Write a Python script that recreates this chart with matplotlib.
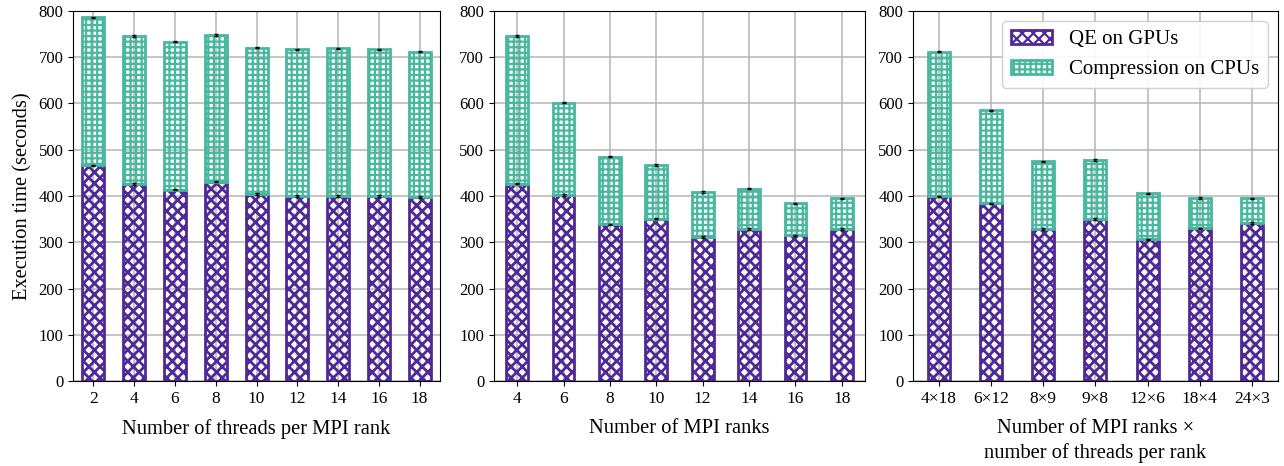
import numpy as np
import matplotlib
matplotlib.use("Agg")
import matplotlib.pyplot as plt

plt.rcParams["font.family"] = ["Liberation Serif", "DejaVu Serif"]

PURPLE = "#4f2a96"
GREEN = "#48b89e"

# panel 1: threads per MPI rank
threads = ["2", "4", "6", "8", "10", "12", "14", "16", "18"]
qe_threads = [466, 426, 414, 431, 404, 400, 400, 400, 398]
tot_threads = [786, 746, 734, 748, 721, 717, 719, 717, 712]

# panel 2: MPI ranks
ranks = ["4", "6", "8", "10", "12", "14", "16", "18"]
qe_ranks = [427, 402, 339, 351, 311, 329, 315, 329]
tot_ranks = [746, 602, 485, 467, 409, 416, 384, 395]

# panel 3: ranks x threads
combos = ["4×18", "6×12", "8×9", "9×8", "12×6", "18×4", "24×3"]
qe_combos = [399, 384, 329, 350, 306, 330, 342]
tot_combos = [712, 585, 475, 478, 406, 396, 395]

err = 1.5

panels = [
    (threads, qe_threads, tot_threads, "Number of threads per MPI rank", 0.54),
    (ranks, qe_ranks, tot_ranks, "Number of MPI ranks", 0.47),
    (combos, qe_combos, tot_combos, "Number of MPI ranks ×\nnumber of threads per rank", 0.42),
]
rects = [(0.0569, 0.1824, 0.2858, 0.794),
         (0.3847, 0.1824, 0.2890, 0.794),
         (0.7110, 0.1824, 0.2843, 0.794)]

fig = plt.figure(figsize=(12.84, 4.66), dpi=100)
for i, ((cats, qe, tot, xlabel, w), r) in enumerate(zip(panels, rects)):
    ax = fig.add_axes(r)
    x = np.arange(len(cats))
    qe = np.array(qe, dtype=float)
    comp = np.array(tot, dtype=float) - qe
    plt.rcParams["hatch.linewidth"] = 2.0
    ax.bar(x, qe, w, facecolor="none", edgecolor=PURPLE, hatch="xxx", lw=2.0,
           label="QE on GPUs", zorder=2)
    plt.rcParams["hatch.linewidth"] = 1.6
    ax.bar(x, comp, w, bottom=qe, facecolor="none", edgecolor=GREEN, hatch="+++",
           lw=2.0, label="Compression on CPUs", zorder=2)
    ax.errorbar(x, qe, yerr=err, fmt="none", ecolor="black", elinewidth=1,
                capsize=1.2, zorder=3)
    ax.errorbar(x, qe + comp, yerr=err, fmt="none", ecolor="black", elinewidth=1,
                capsize=1.2, zorder=3)
    ax.set_xticks(x)
    ax.set_xticklabels(cats, fontsize=12.5)
    ax.set_xlim(-0.5, len(cats) - 0.5)
    ax.set_ylim(0, 800)
    ax.set_yticks(range(0, 801, 100))
    ax.tick_params(axis="y", labelsize=12)
    ax.set_xlabel(xlabel, fontsize=14.8, labelpad=9, linespacing=1.35)
    ax.grid(color="#b5b5b5", lw=1.1)
    ax.set_axisbelow(True)
    if i == 0:
        ax.set_ylabel("Execution time (seconds)", fontsize=14.8)
    if i == 2:
        ax.legend(loc="upper right", fontsize=15, framealpha=0.9,
                  handlelength=2.0)

fig.savefig("out.png", dpi=100)
